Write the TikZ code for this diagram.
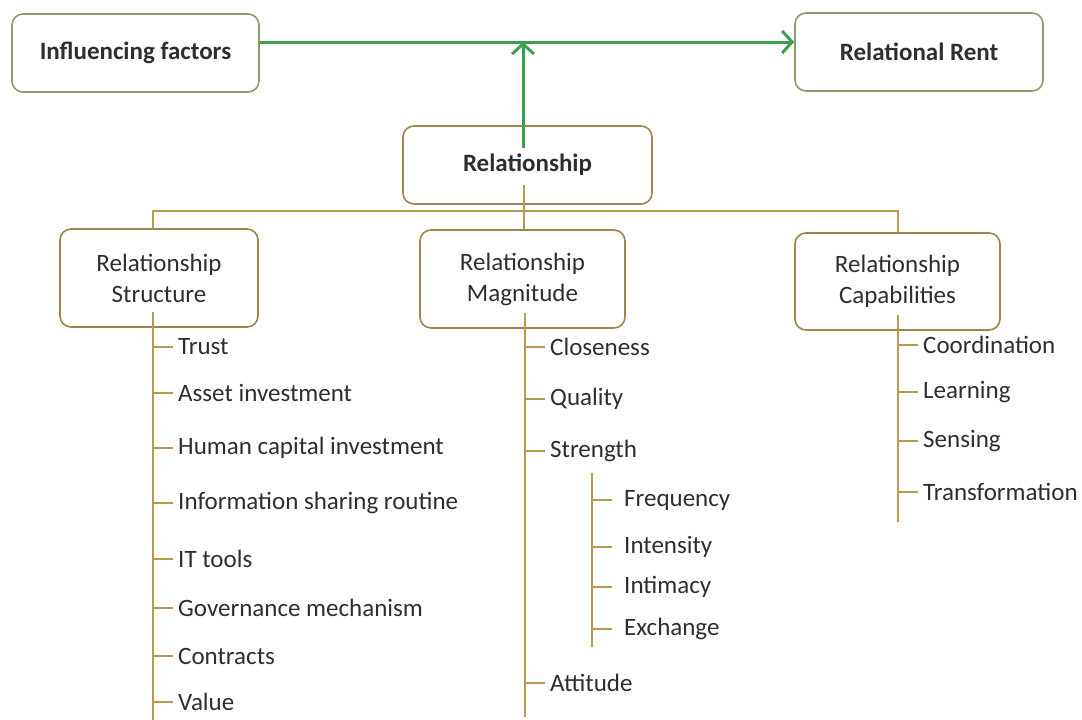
\documentclass[tikz,border=0pt]{standalone}
\usepackage{fontspec}
\setmainfont{Carlito}
\usetikzlibrary{arrows.meta}
\definecolor{boxgreen}{HTML}{8C9C6C}
\definecolor{boxgold}{HTML}{9C8650}
\definecolor{treeline}{HTML}{B89A4C}
\definecolor{arrowgreen}{HTML}{3E9E52}
\definecolor{txt}{HTML}{2E2E2E}
\tikzset{
  topbox/.style={draw=boxgreen, line width=1.6pt, rounded corners=11pt, text=txt,
    font=\fontsize{25}{28}\selectfont\bfseries},
  relbox/.style={draw=boxgold, line width=1.6pt, rounded corners=11pt, text=txt,
    align=center, font=\fontsize{25}{31}\selectfont},
  item/.style={anchor=west, inner xsep=5pt, inner ysep=0pt, text=txt,
    font=\fontsize{25}{28}\selectfont},
  branch/.style={draw=treeline, line width=1.6pt},
  flow/.style={draw=arrowgreen, line width=3pt, -{Straight Barb[length=10pt,width=22pt]}}
}
\begin{document}
\begin{tikzpicture}[x=1pt,y=-1pt]
    \useasboundingbox (0,0) rectangle (1082,720);
    % top row
    \node[topbox, minimum width=247pt, minimum height=78pt] (infl) at (135.5,53) {Influencing factors};
    \node[topbox, minimum width=248pt, minimum height=78pt] (rent) at (919,52) {Relational Rent};
    \node[topbox, draw=boxgold, minimum width=249pt, minimum height=78pt] (rel) at (527.5,165) {Relationship};
    % the three dimensions
    \node[relbox, minimum width=198pt, minimum height=98pt] (struct) at (159,278) {Relationship\\Structure};
    \node[relbox, minimum width=205pt, minimum height=98pt] (magn) at (522.5,279) {Relationship\\Magnitude};
    \node[relbox, minimum width=205pt, minimum height=97pt] (capab) at (897.5,281.5) {Relationship\\Capabilities};
    % green arrows
    \coordinate (jn) at (523,42);
    \coordinate (relTop) at (523,148);
    \draw[flow] (infl.east |- jn) -- (rent.west |- jn);
    \draw[flow] (relTop) -- (jn);
    % tree lines under Relationship
    \coordinate (relFoot) at (524,185);
    \coordinate (barL) at (153,211);
    \coordinate (barR) at (898,211);
    \draw[branch] (relFoot) -- (magn.north -| relFoot);
    \draw[branch] (struct.north -| barL) -- (barL) -- (barR) -- (capab.north -| barR);
    % Relationship Structure
    \coordinate (sTop) at (153,312);
    \coordinate (sEnd) at (153,720);
    \draw[branch] (sTop) -- (sEnd);
    \foreach \i/\y/\txt in {1/347/Trust, 2/393/Asset investment, 3/448/Human capital investment,
        4/503/Information sharing routine, 5/559/IT tools, 6/608/Governance mechanism,
        7/656/Contracts, 8/702/Value}
    {
      \node[item] (s\i) at (173,\y) {\txt};
      \coordinate (sj\i) at (153,\y);
      \draw[branch] (sj\i) -- (s\i.west);
    }
    % Relationship Magnitude
    \coordinate (mTop) at (525,313);
    \coordinate (mEnd) at (525,717);
    \draw[branch] (mTop) -- (mEnd);
    \foreach \i/\y/\txt in {1/347/Closeness, 2/399/Quality, 3/451/Strength, 4/683/Attitude}
    {
      \node[item] (m\i) at (545,\y) {\txt};
      \coordinate (mj\i) at (525,\y);
      \draw[branch] (mj\i) -- (m\i.west);
    }
    % strength sub-items
    \coordinate (kTop) at (592,473);
    \coordinate (kEnd) at (592,647);
    \draw[branch] (kTop) -- (kEnd);
    \foreach \i/\y/\txt in {1/500/Frequency, 2/547/Intensity, 3/587/Intimacy, 4/629/Exchange}
    {
      \node[item, inner xsep=12pt] (k\i) at (612,\y) {\txt};
      \coordinate (kj\i) at (592,\y);
      \draw[branch] (kj\i) -- (k\i.west);
    }
    % Relationship Capabilities
    \coordinate (cTop) at (898,315);
    \coordinate (cEnd) at (898,522);
    \draw[branch] (cTop) -- (cEnd);
    \foreach \i/\y/\txt in {1/345/Coordination, 2/392/Learning, 3/441/Sensing, 4/492/Transformation}
    {
      \node[item] (c\i) at (918,\y) {\txt};
      \coordinate (cj\i) at (898,\y);
      \draw[branch] (cj\i) -- (c\i.west);
    }
\end{tikzpicture}
\end{document}
